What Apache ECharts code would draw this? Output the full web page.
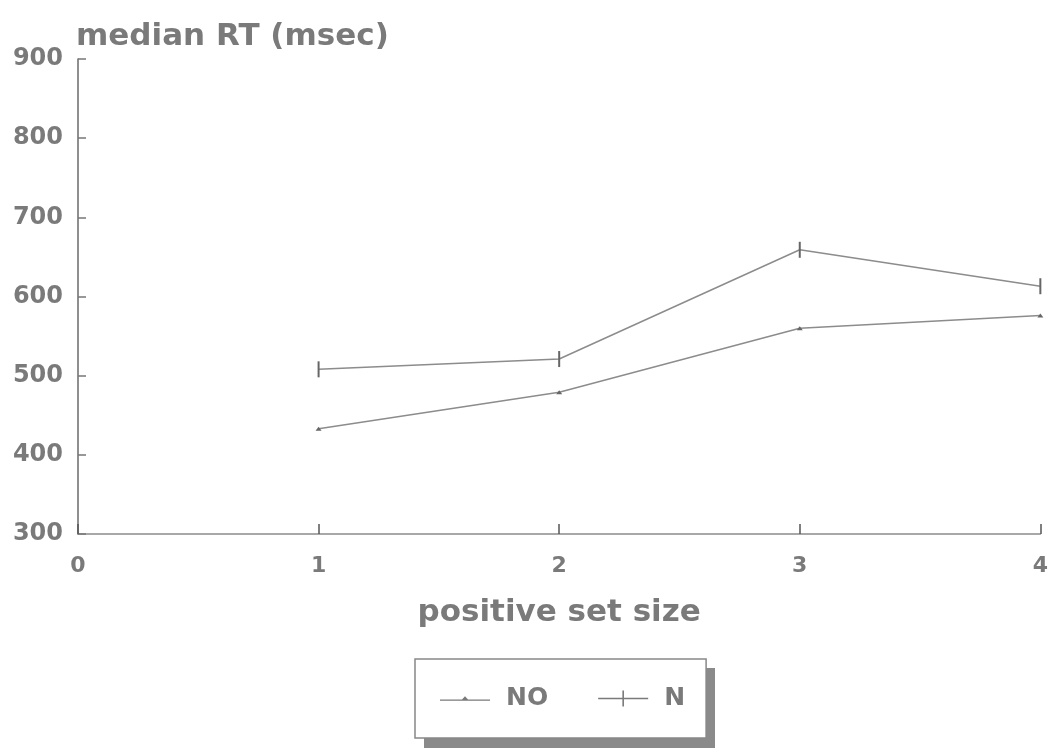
<!DOCTYPE html>
<html>
<head>
<meta charset="utf-8">
<script src="https://cdn.jsdelivr.net/npm/echarts@6/dist/echarts.min.js"></script>
<style>html,body{margin:0;padding:0;background:#fff}#c{width:1051px;height:748px}</style>
</head>
<body>
<div id="c"></div>
<script>
const setSizes = [1, 2, 3, 4];
const seriesNO = [433, 479, 560, 576];
const seriesN = [508, 521, 659, 613];
const xTicks = [0, 1, 2, 3, 4];
const yTicks = [300, 400, 500, 600, 700, 800, 900];

const FONT = '"DejaVu Sans", sans-serif';
const TXT = '#7a7a7a';
const LINE = '#8c8c8c';

const ICON_NO = 'path://M0,7.3H50V8.7H0Z M22,7.3L25,4L28,7.3Z';
const ICON_N = 'path://M0,7.3H50V8.7H0Z M24.2,0H25.8V16H24.2Z';

const chart = echarts.init(document.getElementById('c'), null, {renderer: 'canvas'});
chart.setOption({
  backgroundColor: '#fff',
  animation: false,
  title: {
    text: 'median RT (msec)',
    left: 71, top: 16,
    textStyle: {fontFamily: FONT, fontWeight: 'bold', fontSize: 31, color: TXT}
  },
  grid: {left: 78, right: 8, top: 59, bottom: 214, containLabel: false},
  graphic: [{
    type: 'rect', z: 0,
    shape: {x: 424, y: 668, width: 291, height: 80},
    style: {fill: '#8a8a8a'}
  }],
  xAxis: {
    type: 'value', min: xTicks[0], max: xTicks[xTicks.length - 1], interval: 1,
    name: 'positive set size', nameLocation: 'middle', nameGap: 63,
    nameTextStyle: {fontFamily: FONT, fontWeight: 'bold', fontSize: 31, color: TXT},
    axisLine: {lineStyle: {color: LINE, width: 1.5}},
    axisTick: {inside: true, length: 10, lineStyle: {color: '#555', width: 1.5}},
    axisLabel: {fontFamily: FONT, fontWeight: 'bold', fontSize: 22, color: TXT, margin: 21},
    splitLine: {show: false}
  },
  yAxis: {
    type: 'value', min: yTicks[0], max: yTicks[yTicks.length - 1], interval: 100,
    axisLine: {show: true, lineStyle: {color: '#6a6a6a', width: 1.5}},
    axisTick: {show: true, inside: true, length: 8, lineStyle: {color: '#777', width: 1.5}},
    axisLabel: {fontFamily: FONT, fontWeight: 'bold', fontSize: 24, color: TXT, margin: 15},
    splitLine: {show: false}
  },
  legend: {
    left: 415, top: 659, z: 10,
    padding: [27, 21, 27, 25],
    itemWidth: 50, itemHeight: 16, itemGap: 50,
    backgroundColor: '#fff',
    borderColor: '#888', borderWidth: 1.5,
    itemStyle: {color: '#7a7a7a', borderWidth: 0},
    textStyle: {fontFamily: FONT, fontWeight: 'bold', fontSize: 25, color: TXT, padding: [0, 0, 0, 11]},
    data: [{name: 'NO', icon: ICON_NO}, {name: 'N', icon: ICON_N}]
  },
  series: [
    {
      name: 'NO', type: 'line',
      data: setSizes.map((x, i) => [x, seriesNO[i]]),
      symbol: 'triangle', symbolSize: [6, 4], showAllSymbol: true,
      lineStyle: {color: LINE, width: 1.5},
      itemStyle: {color: '#666'}
    },
    {
      name: 'N', type: 'line',
      data: setSizes.map((x, i) => [x, seriesN[i]]),
      symbol: 'rect', symbolSize: [2, 16], showAllSymbol: true,
      lineStyle: {color: LINE, width: 1.5},
      itemStyle: {color: '#666'}
    }
  ]
});
</script>
</body>
</html>
